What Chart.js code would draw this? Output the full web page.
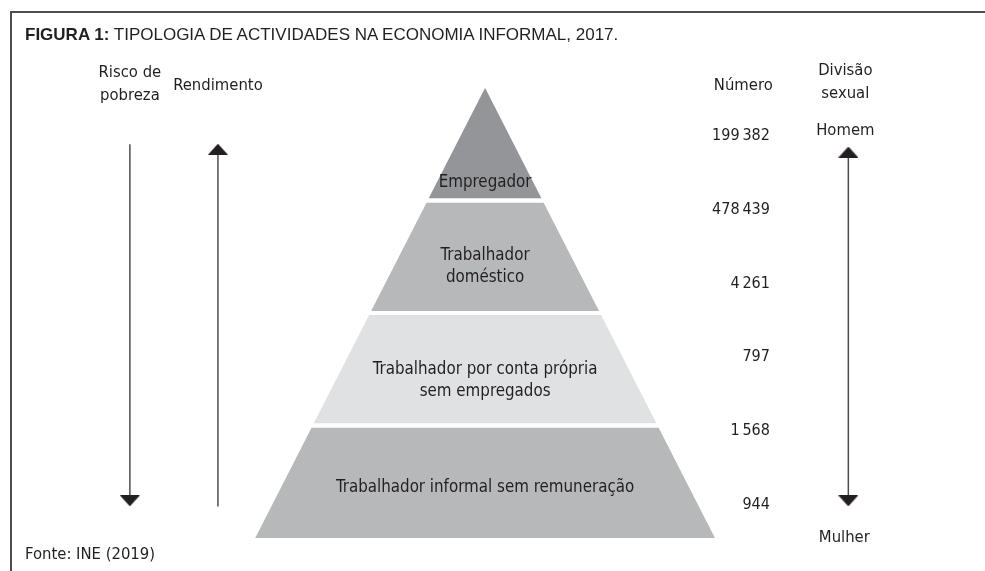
<!DOCTYPE html>
<html lang="pt">
<head>
  <meta charset="UTF-8">
  <title>Figura 1 - Tipologia de actividades na economia informal</title>
  <script src="https://cdn.jsdelivr.net/npm/chart.js"></script>
  <style>
    body { margin: 0; background: #fff; }
    #quadro {
      position: relative;
      width: 985px;
      height: 571px;
      overflow: hidden;
      color: #231f20;
      font-family: 'DejaVu Sans Condensed', 'Liberation Sans Narrow', sans-serif;
    }
    #moldura {
      position: absolute;
      left: 10px; top: 11px; right: -5px; bottom: -5px;
      border-left: 2px solid #4d4d4d;
      border-top: 2px solid #4d4d4d;
    }
    #grafico { position: absolute; left: 0; top: 0; }
    #titulo {
      position: absolute; left: 25px; top: 26px;
      font-family: 'Liberation Sans', sans-serif;
      font-size: 17px; line-height: 17px; white-space: nowrap;
    }
    #fonte { position: absolute; left: 25px; top: 545px; font-size: 16.5px; line-height: 17px; }
  </style>
</head>
<body>
  <div id="quadro">
    <div id="moldura"></div>
    <canvas id="grafico" width="985" height="571"></canvas>
    <div id="titulo"><b>FIGURA 1:</b> TIPOLOGIA DE ACTIVIDADES NA ECONOMIA INFORMAL, 2017.</div>
    <div id="fonte">Fonte: INE (2019)</div>
  </div>

  <script>
    // categorias da base para o topo da pirâmide
    const categorias = [
      ['Trabalhador informal sem remuneração'],
      ['Trabalhador por conta própria', 'sem empregados'],
      ['Trabalhador', 'doméstico'],
      ['Empregador']
    ];
    // limites dos níveis (0 = base, 4 = vértice)
    const niveis = [0, 1, 2, 3, 4];
    // coluna "Número", de cima para baixo
    const numeros = ['199 382', '478 439', '4 261', '797', '1 568', '944'];

    const cores = ['#b7b8ba', '#e0e1e2', '#b7b8ba', '#939598'];
    const corTexto = '#231f20';
    const fonte = '"DejaVu Sans Condensed", "Liberation Sans Narrow", sans-serif';

    // enquadramento: pixel do vértice/base e meia-largura da base
    const W = 985, H = 571;
    const pxTopo = 84, pxBase = 543, pxCentro = 485, pxMeiaBase = 232.5;
    const TOPO = niveis[niveis.length - 1];
    const pxPorNivel = (pxBase - pxTopo) / TOPO;
    const yMin = -(H - pxBase) / pxPorNivel;
    const yMax = TOPO + pxTopo / pxPorNivel;
    const xMin = -pxCentro / pxMeiaBase;
    const xMax = (W - pxCentro) / pxMeiaBase;

    const meiaLargura = v => (TOPO - v) / TOPO;
    const folga = 2 / pxPorNivel; // espaço branco entre camadas

    const datasets = [];
    categorias.forEach((cat, i) => {
      const b = niveis[i] + (i > 0 ? folga : 0);
      const t = niveis[i + 1] - (i < categorias.length - 1 ? folga : 0);
      datasets.push({
        label: cat.join(' '),
        data: [{ x: -meiaLargura(b), y: b }, { x: -meiaLargura(t), y: t }],
        fill: '+1',
        backgroundColor: cores[i],
        borderWidth: 0,
        pointRadius: 0
      });
      datasets.push({
        label: '',
        data: [{ x: meiaLargura(b), y: b }, { x: meiaLargura(t), y: t }],
        fill: false,
        borderWidth: 0,
        pointRadius: 0
      });
    });

    // ponta de seta
    const ponta = document.createElement('canvas');
    ponta.width = 20; ponta.height = 11;
    const pc = ponta.getContext('2d');
    pc.fillStyle = corTexto;
    pc.beginPath(); pc.moveTo(10, 0); pc.lineTo(20, 11); pc.lineTo(0, 11); pc.closePath(); pc.fill();

    // setas: x em meias-larguras, de/ate em níveis
    const setas = [
      { x: -1.545, de: 3.5, ate: 0.33, cima: false, baixo: true },
      { x: -1.162, de: 3.455, ate: 0.28, cima: true, baixo: false },
      { x: 1.58, de: 3.43, ate: 0.33, cima: true, baixo: true }
    ];
    setas.forEach(s => {
      datasets.push({
        label: '',
        data: [{ x: s.x, y: s.de }, { x: s.x, y: s.ate }],
        fill: false,
        borderColor: '#4d4d4d',
        borderWidth: 1.5,
        pointStyle: ponta,
        pointRadius: [s.cima ? 1 : 0, s.baixo ? 1 : 0],
        rotation: [0, 180]
      });
    });

    const textos = {
      id: 'textos',
      afterDraw(chart) {
        const { ctx, scales: { x, y } } = chart;
        const px = v => x.getPixelForValue(v);
        const py = v => y.getPixelForValue(v);
        ctx.save();
        ctx.fillStyle = corTexto;
        ctx.textBaseline = 'middle';
        ctx.textAlign = 'center';

        // rótulos das camadas
        ctx.font = '16.8px ' + fonte;
        const nivelRotulo = [0.45, 1.4, 2.41, 3.16];
        categorias.forEach((linhas, i) => {
          const c = py(nivelRotulo[i]);
          linhas.forEach((l, k) => {
            ctx.fillText(l, px(0), c + (k - (linhas.length - 1) / 2) * 22);
          });
        });

        // cabeçalhos
        ctx.font = '16.5px ' + fonte;
        ctx.fillText('Risco de', px(setas[0].x), 73);
        ctx.fillText('pobreza', px(setas[0].x), 96);
        ctx.fillText('Rendimento', px(setas[1].x), 86);
        ctx.fillText('Número', px(1.123), 86);
        ctx.fillText('Divisão', px(setas[2].x) - 3, 71);
        ctx.fillText('sexual', px(setas[2].x) - 3, 94);
        ctx.fillText('Homem', px(setas[2].x) - 3, 131);
        ctx.fillText('Mulher', px(setas[2].x) - 4, 538);

        // coluna de números
        ctx.font = '16px ' + fonte;
        ctx.textAlign = 'right';
        const n0 = 3.573, passo = 0.655;
        numeros.forEach((n, i) => ctx.fillText(n.replace(' ', '\u2009'), px(1.239), py(n0 - i * passo)));
        ctx.restore();
      }
    };

    new Chart(document.getElementById('grafico'), {
      type: 'line',
      data: { datasets },
      options: {
        indexAxis: 'y',
        responsive: false,
        animation: false,
        events: [],
        layout: { padding: 0 },
        plugins: { legend: { display: false }, tooltip: { enabled: false } },
        scales: {
          x: { type: 'linear', min: xMin, max: xMax, display: false },
          y: { type: 'linear', min: yMin, max: yMax, display: false }
        }
      },
      plugins: [textos]
    });
  </script>
</body>
</html>
